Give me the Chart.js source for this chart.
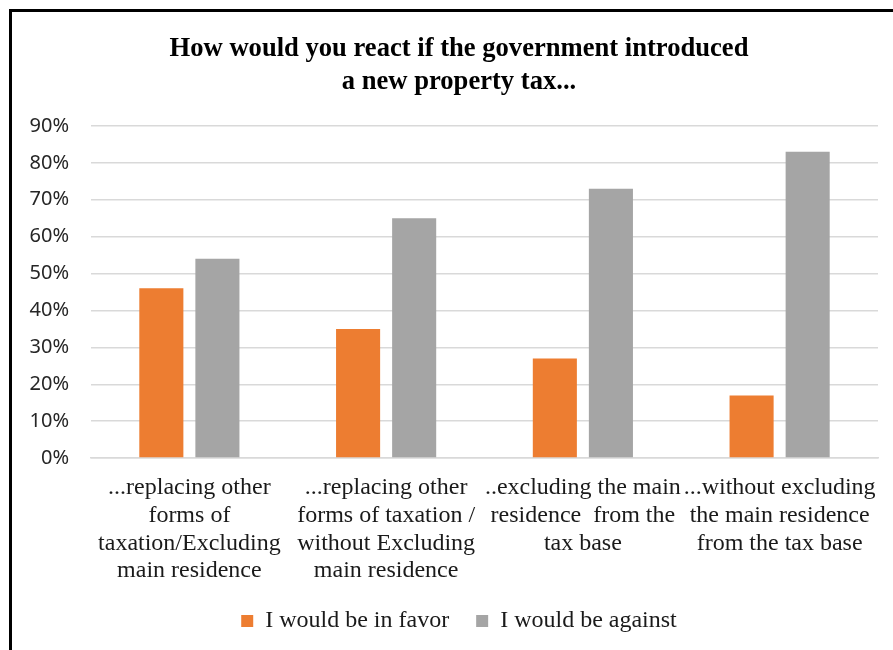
<!DOCTYPE html>
<html>
<head>
<meta charset="utf-8">
<script src="https://cdn.jsdelivr.net/npm/chart.js@4.4.1/dist/chart.umd.min.js"></script>
<style>
  html, body { margin: 0; padding: 0; background: #fff; overflow: hidden; width: 893px; height: 650px; }
  #frame { position: absolute; left: 9px; top: 9px; width: 920px; height: 700px; border-left: 3px solid #000; border-top: 3px solid #000; box-sizing: border-box; }
  #wrap { position: absolute; left: 12px; top: 12px; width: 894px; height: 650px; }
</style>
</head>
<body>
<div id="frame"></div>
<div id="wrap"><canvas id="c"></canvas></div>
<script>
const categories = [
  ["...replacing other", "forms of", "taxation/Excluding", "main residence"],
  ["...replacing other", "forms of taxation /", "without Excluding", "main residence"],
  ["..excluding the main", "residence  from the", "tax base"],
  ["...without excluding", "the main residence", "from the tax base"]
];
const seriesNames = ["I would be in favor", "I would be against"];
const inFavor = [46, 35, 27, 17];
const against = [54, 65, 73, 83];
const yTicks = [0, 10, 20, 30, 40, 50, 60, 70, 80, 90];
const titleLines = ["How would you react if the government introduced", "a new property tax..."];

const ctx = document.getElementById('c');
new Chart(ctx, {
  type: 'bar',
  data: {
    labels: categories,
    datasets: [
      { label: seriesNames[0], data: inFavor, backgroundColor: '#ED7D31', categoryPercentage: 0.57, barPercentage: 0.786 },
      { label: seriesNames[1], data: against, backgroundColor: '#A5A5A5', categoryPercentage: 0.57, barPercentage: 0.786 }
    ]
  },
  options: {
    responsive: true,
    maintainAspectRatio: false,
    animation: false,
    layout: { padding: { left: 0, right: 0, top: 21, bottom: 19 } },
    plugins: {
      title: {
        display: true,
        text: titleLines,
        color: '#000',
        font: { family: '"Liberation Serif", "Times New Roman", serif', size: 26.6, weight: 'bold', lineHeight: 1.24 },
        padding: { top: 0, bottom: 27 }
      },
      legend: {
        position: 'bottom',
        labels: {
          color: '#1a1a1a',
          font: { family: '"Liberation Serif", "Times New Roman", serif', size: 24 },
          boxWidth: 12,
          boxHeight: 12,
          padding: 27
        }
      },
      tooltip: { enabled: false }
    },
    scales: {
      x: {
        grid: { display: false },
        border: { display: true, color: '#D9D9D9', width: 1.5 },
        afterFit: (axis) => { axis.height = axis.height - 11; },
        ticks: {
          color: '#1a1a1a',
          maxRotation: 0,
          autoSkip: false,
          font: { family: '"Liberation Serif", "Times New Roman", serif', size: 24, lineHeight: 1.155 },
          padding: 8
        }
      },
      y: {
        min: 0,
        max: 90,
        afterBuildTicks: (axis) => { axis.ticks = yTicks.map(v => ({ value: v })); },
        afterFit: (axis) => { axis.width = 79; },
        grid: { color: '#D9D9D9', lineWidth: 1.5, drawTicks: false },
        border: { display: false },
        ticks: {
          color: '#262626',
          padding: 22,
          font: { family: '"Noto Sans", "Liberation Sans", sans-serif', size: 20 },
          callback: (v) => v + '%'
        }
      },
      yRightSpace: {
        type: 'linear',
        position: 'right',
        display: true,
        grid: { display: false, drawTicks: false },
        border: { display: false },
        ticks: { display: false },
        afterFit: (axis) => { axis.width = 28; }
      }
    }
  }
});
</script>
</body>
</html>
